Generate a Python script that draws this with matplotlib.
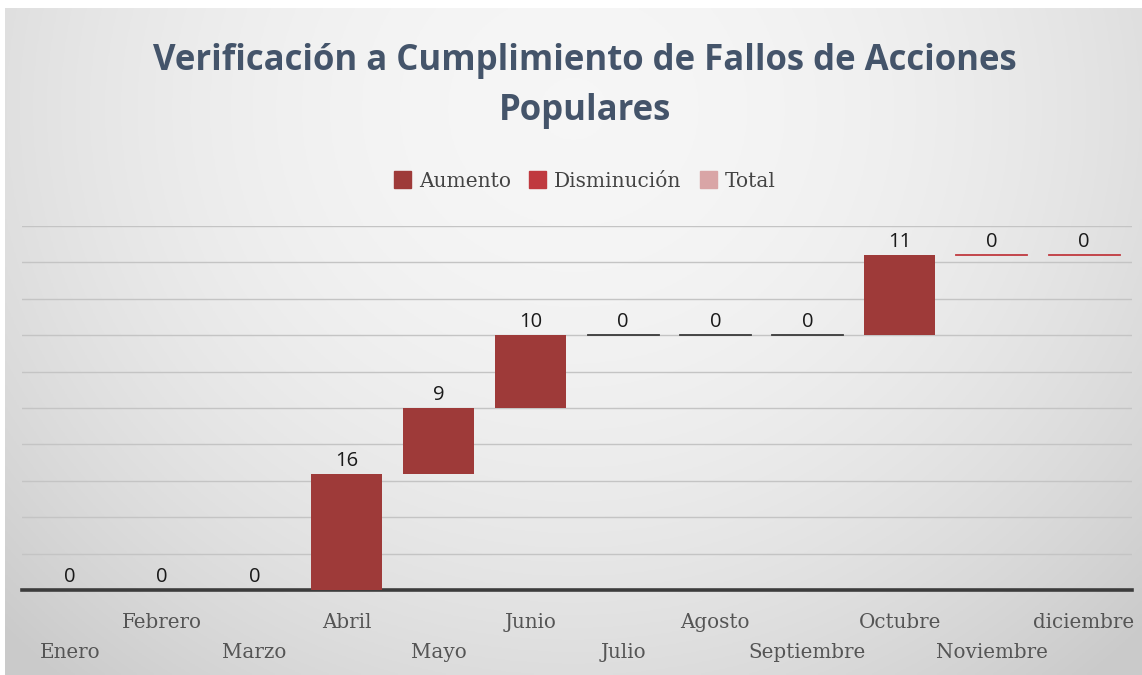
import numpy as np
import matplotlib
matplotlib.use('Agg')
import matplotlib.pyplot as plt
from matplotlib.patches import Patch

# Datos del gráfico de cascada
meses = ['Enero', 'Febrero', 'Marzo', 'Abril', 'Mayo', 'Junio', 'Julio',
         'Agosto', 'Septiembre', 'Octubre', 'Noviembre', 'diciembre']
valores = [0, 0, 0, 16, 9, 10, 0, 0, 0, 11, 0, 0]

color_aumento = '#9e3a39'
color_disminucion = '#c0393f'
color_total = '#d9a5a6'

acumulado = np.cumsum(valores)
base = acumulado - np.array(valores)
x = np.arange(len(meses))

fig = plt.figure(figsize=(11.42, 6.75), dpi=100, facecolor='white')

# Fondo con degradado radial
bg = fig.add_axes([5 / 1142, 0, 1 - 5 / 1142, 1 - 8 / 675], zorder=-5)
gx, gy = np.meshgrid(np.linspace(-1, 1, 400), np.linspace(-1, 1, 240))
r = np.sqrt(gx ** 2 + ((gy + 0.7) / 1.6) ** 2)
shade = 0.965 - 0.17 * np.clip(r, 0, 1.4) ** 2 / 1.96
bg.imshow(np.dstack([shade] * 3), aspect='auto', extent=[0, 1, 0, 1])
bg.axis('off')

ax = fig.add_axes([22 / 1142, 1 - 590 / 675, 1110 / 1142, 364 / 675])
ax.set_facecolor('none')

ancho = 0.77
for i in x:
    if valores[i] > 0:
        ax.bar(i, valores[i], bottom=base[i], width=ancho,
               color=color_aumento, zorder=3)
    elif acumulado[i] > 0:
        col = '#3a3a3a' if i < 9 else color_disminucion
        ax.plot([i - ancho / 2, i + ancho / 2], [acumulado[i]] * 2,
                color=col, lw=1.3, zorder=3)
    ax.annotate(str(valores[i]), (i, acumulado[i]), xytext=(0, 2),
                textcoords='offset points', ha='center', va='bottom',
                fontsize=14.5, color='#1a1a1a', family='Open Sans',
                annotation_clip=False)

ax.set_xlim(-0.52, 11.52)
ax.set_ylim(0, 50)
ax.set_yticks(np.arange(5, 51, 5))
ax.yaxis.grid(True, color='#c4c4c4', lw=1)
ax.set_axisbelow(True)
ax.tick_params(axis='y', left=False, labelleft=False)
ax.tick_params(axis='x', bottom=False, labelbottom=False)
for s in ['top', 'right', 'left']:
    ax.spines[s].set_visible(False)
ax.spines['bottom'].set_color('#3c3c3c')
ax.spines['bottom'].set_linewidth(2.6)

# Etiquetas de meses escalonadas
for i, m in enumerate(meses):
    dy = -62 if i % 2 == 0 else -32
    ax.annotate(m, (i, 0), xytext=(0, dy * 0.72), textcoords='offset points',
                ha='center', va='center', fontsize=14.3, color='#555555',
                family='DejaVu Serif', annotation_clip=False)

fig.text(0.512, 1 - 86 / 675, 'Verificación a Cumplimiento de Fallos de Acciones\nPopulares',
         ha='center', va='center', fontsize=25, fontweight='bold',
         color='#44546a', family='Open Sans', linespacing=1.5)

handles = [Patch(color=color_aumento, label='Aumento'),
           Patch(color=color_disminucion, label='Disminución'),
           Patch(color=color_total, label='Total')]
fig.legend(handles=handles, loc='center', bbox_to_anchor=(0.512, 1 - 181 / 675),
           ncol=3, frameon=False, handlelength=0.85, handleheight=0.85,
           handletextpad=0.4, columnspacing=0.9,
           prop={'family': 'DejaVu Serif', 'size': 14.5}, labelcolor='#444444')

fig.savefig('out.png', dpi=100)
